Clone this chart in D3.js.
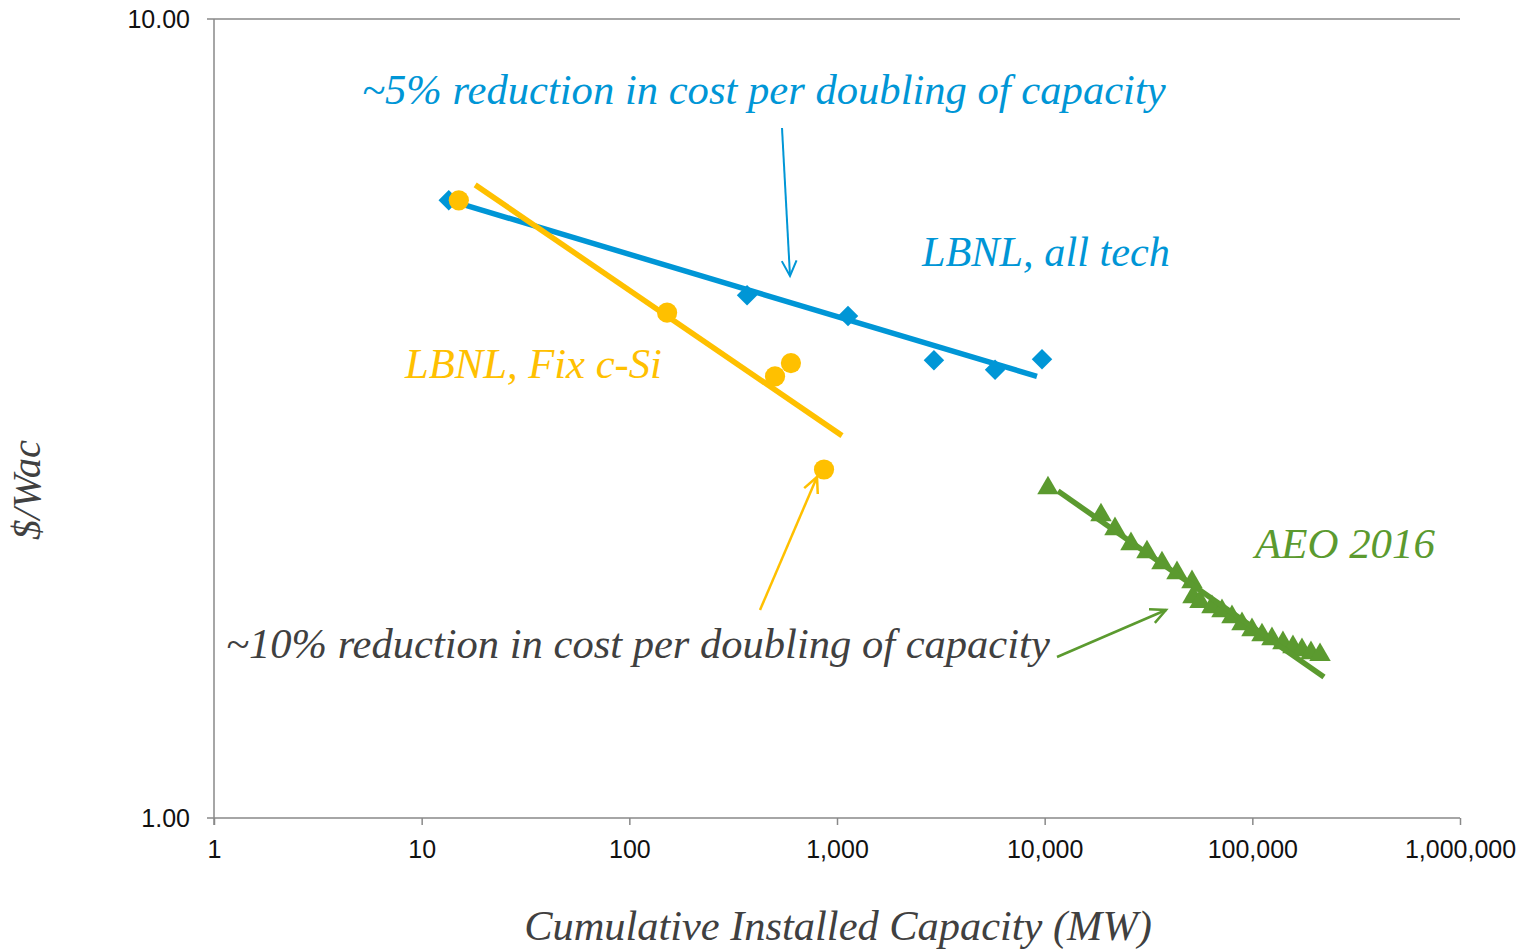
<!DOCTYPE html>
<html>
<head>
<meta charset="utf-8">
<script src="https://cdn.jsdelivr.net/npm/d3@7"></script>
<style>
  html, body { margin: 0; padding: 0; background: #fff; }
  svg { display: block; }
  .serif-label { font-family: "Liberation Serif", "Times New Roman", serif; font-style: italic; }
  .tick-label { font-family: "Liberation Sans", Arial, sans-serif; }
</style>
</head>
<body>
<svg id="chart" width="1523" height="950"></svg>
<script>
// Axis ticks
const xTickValues = [1, 10, 100, 1000, 10000, 100000, 1000000];
const xTickLabels = ["1", "10", "100", "1,000", "10,000", "100,000", "1,000,000"];
const yTickValues = [1, 10];
const yTickLabels = ["1.00", "10.00"];

// LBNL, all technologies: cumulative capacity (MW) and cost ($/Wac)
const allTechCapacity = [13.5, 369, 1130, 2930, 5770, 9710];
const allTechCost     = [5.93, 4.51, 4.25, 3.74, 3.64, 3.75];
// power-law trend drawn across the series
const allTechTrendCapacity = [14.5, 9180];
const allTechTrendCost     = [5.90, 3.57];

// LBNL, fixed-tilt c-Si
const fixCapacity = [15.1, 152, 503, 600, 866];
const fixCost     = [5.93, 4.29, 3.57, 3.71, 2.73];
const fixTrendCapacity = [18.1, 1057];
const fixTrendCost     = [6.20, 3.01];

// AEO 2016 projection
const aeoCapacity = [10375, 18670, 21810, 26040, 31090, 36720, 43370, 51220, 51790, 55970,
                     63920, 71430, 79800, 89170, 99610, 111300, 124300, 140400, 156900,
                     173400, 191600, 211800];
const aeoCost     = [2.588, 2.394, 2.300, 2.203, 2.152, 2.085, 2.026, 1.974, 1.891, 1.864,
                     1.837, 1.816, 1.785, 1.749, 1.719, 1.694, 1.675, 1.656, 1.637,
                     1.623, 1.609, 1.600];
const aeoTrendCapacity = [11590, 221300];
const aeoTrendCost     = [2.566, 1.501];

const BLUE = "#0096d6", YELLOW = "#ffc000", GREEN = "#5b9a2f", DARK = "#404040", AXIS = "#898989";

const svg = d3.select("#chart");
const plotLeft = 214, plotRight = 1460, plotTop = 19, plotBottom = 818;

const x = d3.scaleLog().domain([1, 1000000]).range([plotLeft, plotRight]);
const y = d3.scaleLog().domain([1, 10]).range([plotBottom, plotTop]);

// gridline at 10 and axis frame
svg.append("line").attr("x1", plotLeft - 7).attr("x2", plotRight).attr("y1", y(10)).attr("y2", y(10))
  .attr("stroke", AXIS).attr("stroke-width", 1.5);
svg.append("line").attr("x1", plotLeft - 7).attr("x2", plotRight).attr("y1", y(1)).attr("y2", y(1))
  .attr("stroke", AXIS).attr("stroke-width", 1.5);
svg.append("line").attr("x1", plotLeft).attr("x2", plotLeft).attr("y1", y(10)).attr("y2", plotBottom + 7)
  .attr("stroke", AXIS).attr("stroke-width", 1.5);

// x axis ticks + labels
const xAxis = d3.axisBottom(x).tickValues(xTickValues)
  .tickFormat((d, i) => xTickLabels[i]).tickSize(7).tickPadding(15);
const gx = svg.append("g").attr("transform", `translate(0,${plotBottom})`).call(xAxis);
gx.attr("font-family", null);
gx.select(".domain").remove();
gx.selectAll(".tick line").attr("stroke", AXIS).attr("stroke-width", 1.5);
gx.selectAll(".tick text").attr("class", "tick-label")
  .attr("font-size", 25).attr("fill", "#111");

// y axis labels
const yAxis = d3.axisLeft(y).tickValues(yTickValues)
  .tickFormat((d, i) => yTickLabels[i]).tickSize(0).tickPadding(24);
const gy = svg.append("g").attr("transform", `translate(${plotLeft},0)`).call(yAxis);
gy.attr("font-family", null);
gy.select(".domain").remove();
gy.selectAll(".tick text").attr("class", "tick-label")
  .attr("font-size", 25).attr("fill", "#111");

// trend lines
const line = d3.line().x(d => x(d[0])).y(d => y(d[1]));
function trend(caps, costs, color) {
  svg.append("path").datum(d3.zip(caps, costs)).attr("d", line)
    .attr("fill", "none").attr("stroke", color).attr("stroke-width", 5.5);
}

// markers
const sym = d3.symbol();
function markers(caps, costs, type, size, color, rot) {
  svg.append("g").selectAll("path").data(d3.zip(caps, costs)).join("path")
    .attr("d", sym.type(type).size(size)())
    .attr("transform", d => `translate(${x(d[0])},${y(d[1])}) rotate(${rot})`)
    .attr("fill", color);
}

markers(allTechCapacity, allTechCost, d3.symbolSquare, 210, BLUE, 45);
trend(allTechTrendCapacity, allTechTrendCost, BLUE);
markers(fixCapacity, fixCost, d3.symbolCircle, 320, YELLOW, 0);
trend(fixTrendCapacity, fixTrendCost, YELLOW);
markers(aeoCapacity, aeoCost, d3.symbolTriangle, 200, GREEN, 0);
trend(aeoTrendCapacity, aeoTrendCost, GREEN);

// annotation arrows (open heads)
function arrow(x1, y1, x2, y2, color, w) {
  const g = svg.append("g").attr("stroke", color).attr("stroke-width", w)
    .attr("fill", "none").attr("stroke-linecap", "butt");
  g.append("line").attr("x1", x1).attr("y1", y1).attr("x2", x2).attr("y2", y2);
  const a = Math.atan2(y2 - y1, x2 - x1), L = 17, s = 0.45;
  g.append("path").attr("d",
    `M${x2 - L * Math.cos(a - s)},${y2 - L * Math.sin(a - s)}L${x2},${y2}L${x2 - L * Math.cos(a + s)},${y2 - L * Math.sin(a + s)}`);
}
arrow(782, 128, 790, 276, BLUE, 2);
arrow(760, 610, 817, 477, YELLOW, 2.5);
arrow(1057, 657, 1166, 610, GREEN, 2.5);

// italic serif labels, sized to span a given width
function label(text, px, py, width, color, anchor) {
  const t = svg.append("text").text(text).attr("x", px).attr("y", py)
    .attr("class", "serif-label").attr("font-size", 38).attr("fill", color)
    .attr("text-anchor", anchor || "start");
  const w = t.node().getComputedTextLength();
  t.attr("font-size", 38 * width / w);
  return t;
}
label("~5% reduction in cost per doubling of capacity", 362, 104, 804, BLUE);
label("LBNL, all tech", 922, 266, 248, BLUE);
label("LBNL, Fix c-Si", 405, 378, 257, YELLOW);
label("AEO 2016", 1255, 558, 180, GREEN);
label("~10% reduction in cost per doubling of capacity", 226, 658, 824, DARK);
label("Cumulative Installed Capacity (MW)", 838, 940, 628, DARK, "middle");
label("$/Wac", 0, 0, 100, DARK, "middle").attr("transform", "translate(40,490) rotate(-90)");
</script>
</body>
</html>
